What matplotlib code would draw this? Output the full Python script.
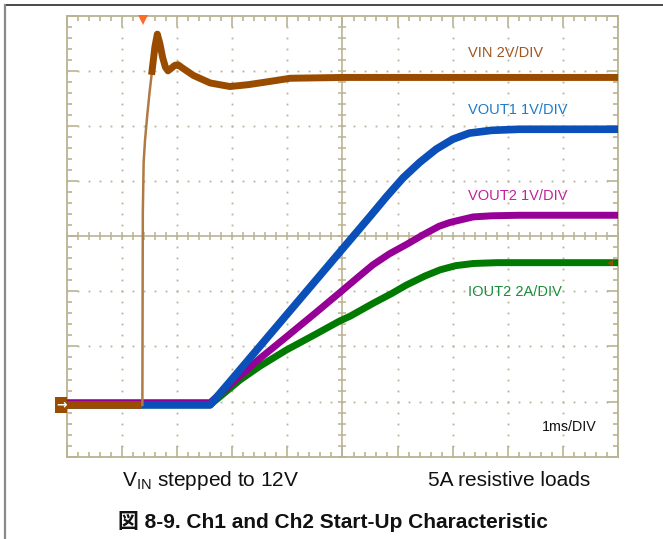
import numpy as np
import matplotlib
matplotlib.use("Agg")
import matplotlib.pyplot as plt
from matplotlib.patches import Rectangle
from matplotlib.lines import Line2D

plt.rcParams['font.family'] = ['Liberation Sans', 'Noto Sans CJK JP', 'DejaVu Sans']
plt.rcParams['mathtext.fontset'] = 'custom'
plt.rcParams['mathtext.rm'] = 'Liberation Sans'
plt.rcParams['mathtext.it'] = 'Liberation Sans:italic'

# ---------------- data (time in ms, physical units) ----------------
vin_t = [0, 1.372, 1.380, 1.395, 1.420, 1.46, 1.50, 1.546, 1.60, 1.643, 1.69, 1.74,
         1.79, 1.836, 1.90, 1.96, 2.018, 2.10, 2.30, 2.60, 2.96, 3.30, 3.70, 4.05, 5.0, 10.0]
vin_v = [0, 0, 7.0, 8.8, 9.6, 10.5, 11.3, 12.1, 13.0, 13.45, 13.1, 12.6,
         12.25, 12.12, 12.22, 12.32, 12.34, 12.22, 11.95, 11.68, 11.55, 11.62, 11.74, 11.85, 11.88, 11.88]

vout1_t = [0, 2.60, 3.0, 3.5, 4.0, 4.5, 5.0, 5.5, 5.8, 6.1, 6.4, 6.7, 7.0, 7.3, 7.7, 8.2, 10.0]
vout1_v = [0, 0, 0.47, 1.06, 1.65, 2.24, 2.83, 3.42, 3.78, 4.12, 4.40, 4.64, 4.82, 4.93, 4.98, 5.0, 5.0]

vout2_t = [0, 2.60, 3.0, 3.5, 3.99, 4.5, 4.955, 5.25, 5.55, 5.85, 6.16, 6.47, 6.75, 6.95, 7.2, 7.37, 7.7, 8.2, 10.0]
vout2_v = [0, 0, 0.36, 0.80, 1.20, 1.62, 2.0, 2.25, 2.50, 2.70, 2.87, 3.05, 3.20, 3.27, 3.33, 3.37, 3.39, 3.40, 3.40]

iout2_t = [0, 2.60, 2.90, 3.14, 3.50, 3.99, 4.50, 4.955, 5.14, 5.55, 5.90, 6.16, 6.50, 6.77, 7.05, 7.37, 7.80, 10.0]
iout2_a = [0, 0, 0.50, 0.90, 1.40, 2.00, 2.55, 3.05, 3.22, 3.68, 4.05, 4.35, 4.68, 4.90, 5.05, 5.13, 5.16, 5.16]

# channel scales (units / div) and ground offsets (div)
vin_scale, vout1_scale, vout2_scale, iout2_scale = 2.0, 1.0, 1.0, 2.0
gnd_offset = -3.06
vout2_offset = -3.02

labels = ["VIN 2V/DIV", "VOUT1 1V/DIV", "VOUT2 1V/DIV", "IOUT2 2A/DIV"]
timebase = "1ms/DIV"
trigger_t = 1.39

# ---------------- styling ----------------
W, H = 663, 539
fig = plt.figure(figsize=(W / 100, H / 100), dpi=100)
ax_l, ax_r, ax_t, ax_b = 66.7, 618.3, 15.7, 456.7
ax = fig.add_axes([ax_l / W, 1 - ax_b / H, (ax_r - ax_l) / W, (ax_b - ax_t) / H])
ax.set_xlim(0, 10)
ax.set_ylim(-4, 4)

grid_c = '#bab392'
dot_c = '#b8b296'
for s in ax.spines.values():
    s.set_color(grid_c)
    s.set_linewidth(1.3)
ax.set_xticks(np.arange(0, 11, 1))
ax.set_yticks(np.arange(-4, 5, 1))
ax.set_xticks(np.arange(0, 10.01, 0.2), minor=True)
ax.set_yticks(np.arange(-4, 4.01, 0.2), minor=True)
ax.tick_params(which='both', direction='in', top=True, right=True, labelbottom=False,
               labelleft=False, color=grid_c, width=1.2)
ax.tick_params(which='major', length=8)
ax.tick_params(which='minor', length=3.6)

# dotted grid
fine = np.arange(0, 10.01, 0.2)
finey = np.arange(-4, 4.01, 0.2)
for gx in range(1, 10):
    if gx == 5:
        continue
    ax.plot(np.full_like(finey, gx), finey, ls='none', marker='s', ms=1.3, mew=0, color=dot_c, zorder=1)
for gy in range(-3, 4):
    if gy == 0:
        continue
    ax.plot(fine, np.full_like(fine, gy), ls='none', marker='s', ms=1.3, mew=0, color=dot_c, zorder=1)
# center cross with ticks
ax.axhline(0, color=grid_c, lw=1.2, zorder=1)
ax.axvline(5, color=grid_c, lw=1.2, zorder=1)
ax.plot(fine, np.zeros_like(fine), ls='none', marker='|', ms=6, mew=1.1, color=grid_c, zorder=1)
ax.plot(np.full_like(finey, 5), finey, ls='none', marker='_', ms=6, mew=1.1, color=grid_c, zorder=1)

def to_div(vals, scale, off):
    return np.asarray(vals, dtype=float) / scale + off

c_vin, c_v1, c_v2, c_i2 = '#994c00', '#0a50b8', '#960096', '#007a00'

ax.plot(iout2_t, to_div(iout2_a, iout2_scale, gnd_offset), color=c_i2, lw=5, zorder=3,
        solid_joinstyle='round')
ax.plot(vout2_t, to_div(vout2_v, vout2_scale, vout2_offset), color=c_v2, lw=5, zorder=4,
        solid_joinstyle='round')
ax.plot(vout1_t, to_div(vout1_v, vout1_scale, gnd_offset), color=c_v1, lw=5.5, zorder=5,
        solid_joinstyle='round')

vt = np.asarray(vin_t)
vy = to_div(vin_v, vin_scale, gnd_offset)
k0 = 2   # end of ground part
k1 = 7   # end of fast rise
ax.plot(vt[:k0], vy[:k0], color=c_vin, lw=5.5, zorder=6, solid_capstyle='butt')
ax.plot(vt[k0 - 1:k1 + 1], vy[k0 - 1:k1 + 1], color='#b07a45', lw=1.8, zorder=6)
ax.plot(vt[k1:], vy[k1:], color=c_vin, lw=5, zorder=6, solid_joinstyle='round')

# trigger marker & level marker
ax.plot([trigger_t], [3.93], marker='v', ms=7, color='#ff6a2a', mew=0, clip_on=False, zorder=7)
ax.plot([9.85], [to_div(5.16, iout2_scale, gnd_offset)], marker='<', ms=5, color=c_vin,
        mew=0, zorder=7)

# channel labels
lab_cols = ['#a0561e', '#1c7ccc', '#c0229c', '#1a8c3a']
lab_y = [53, 110, 196.5, 292.5]
for txt, col, yy in zip(labels, lab_cols, lab_y):
    fig.text(468 / W, 1 - yy / H, txt, color=col, fontsize=10.5, va='center', ha='left')
fig.text(597 / W, 1 - 427 / H, timebase, color='#111111', fontsize=10.3, va='center', ha='right')

# ground marker box on left
fig.add_artist(Rectangle((55.5 / W, 1 - 413 / H), 11.5 / W, 16 / H, transform=fig.transFigure,
                         facecolor=c_vin, edgecolor='none', zorder=8))
fig.text(61.5 / W, 1 - 405 / H, '→', color='white', fontsize=9, fontweight='bold',
         ha='center', va='center', family='DejaVu Sans', zorder=9)

# frame lines
fig.add_artist(Line2D([4.7 / W, 1], [1 - 4.7 / H, 1 - 4.7 / H], transform=fig.transFigure,
                      color='#2a2a2a', lw=1.2))
fig.add_artist(Line2D([4.7 / W, 4.7 / W], [0, 1 - 4.7 / H], transform=fig.transFigure,
                      color='#8a8a8a', lw=1.6))

# bottom texts
fig.text(122 / W, 1 - 481 / H, r'V$_{\mathrm{IN}}$ stepped to 12V', fontsize=15, va='center', ha='left',
         color='#111111')
fig.text(428 / W, 1 - 481 / H, '5A resistive loads', fontsize=15, va='center', ha='left',
         color='#111111')
fig.text(118 / W, 1 - 521 / H, '図 8-9. Ch1 and Ch2 Start-Up Characteristic', fontsize=15,
         fontweight='bold', va='center', ha='left', color='#111111',
         family=['Liberation Sans', 'Noto Sans CJK JP'])

fig.savefig('out.png', dpi=100)
